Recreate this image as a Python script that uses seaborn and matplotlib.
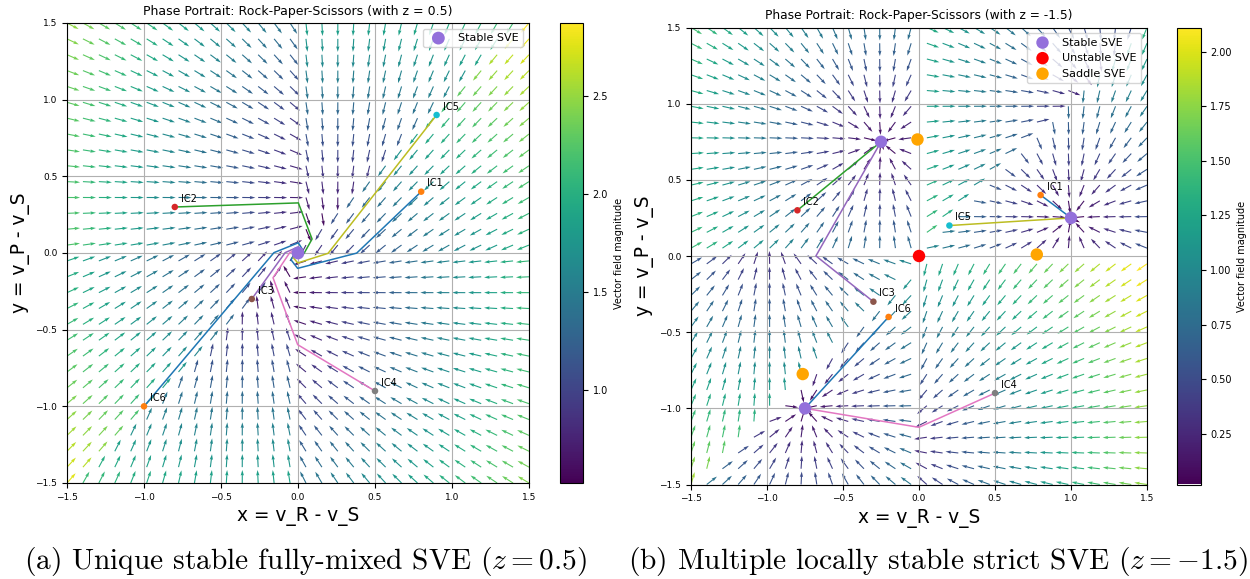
import numpy as np
import pandas as pd
import matplotlib
matplotlib.use("Agg")
import matplotlib.pyplot as plt
import seaborn as sns

plt.rcParams["mathtext.fontset"] = "cm"

# ---------------------------------------------------------------------------
# Piecewise value dynamics  dv/dt = u(pi(v)) - v  in difference coordinates
# x = v_R - v_S, y = v_P - v_S.  pi depends on the ordering of the values,
# so u(pi) is a fixed target point for each of the six orderings.
# ---------------------------------------------------------------------------
orderings = ["RPS", "PSR", "SRP", "RSP", "PRS", "SPR"]

target_x_z05 = [-0.35, 0.70, -0.35, -0.58, 0.25, 0.33]
target_y_z05 = [-0.70, 0.35, 0.35, -0.25, -0.33, 0.58]

target_x_zm15 = [1.00, -0.25, -0.75, -0.247, 1.235, -0.988]
target_y_zm15 = [0.25, 0.75, -1.00, -1.235, 0.988, 0.247]

# initial conditions of the sample trajectories
ic_labels = ["IC1", "IC2", "IC3", "IC4", "IC5", "IC6"]
ic_x_z05 = [0.8, -0.8, -0.3, 0.5, 0.9, -1.0]
ic_y_z05 = [0.4, 0.3, -0.3, -0.9, 0.9, -1.0]
ic_x_zm15 = [0.8, -0.8, -0.3, 0.5, 0.2, -0.2]
ic_y_zm15 = [0.4, 0.3, -0.3, -0.9, 0.2, -0.4]

# equilibria (SVE)
stable_x_z05, stable_y_z05 = [0.0], [0.0]
stable_x_zm15, stable_y_zm15 = [1.0, -0.25, -0.75], [0.25, 0.75, -1.0]
unstable_x_zm15, unstable_y_zm15 = [0.0], [0.0]
saddle_x_zm15, saddle_y_zm15 = [0.775, -0.01, -0.765], [0.01, 0.765, -0.775]

GRID_N = 30
LIM = 1.5


def ordering_index(x, y):
    """Index into `orderings` for values (x, y, 0).

    When v_R == v_P the pair is ranked R first above v_S and P first below it.
    """
    x = np.asarray(x, float)
    y = np.asarray(y, float)
    r_over_p = (x > y) | ((x == y) & (y > 0))
    conds = [
        r_over_p & (y >= 0),     # R > P > S
        (y >= 0) & (x < 0),      # P > S > R
        (x < 0) & r_over_p,      # S > R > P
        (x >= 0) & (y < 0),      # R > S > P
        ~r_over_p & (x >= 0),    # P > R > S
        (y < 0) & ~r_over_p,     # S > P > R
    ]
    return np.select(conds, np.arange(6), default=0)


def field(x, y, tx, ty):
    k = ordering_index(x, y)
    tx = np.asarray(tx)
    ty = np.asarray(ty)
    return tx[k] - x, ty[k] - y


def trajectory(x0, y0, tx, ty, dt=0.004, steps=2500):
    xs = np.empty(steps + 1)
    ys = np.empty(steps + 1)
    xs[0], ys[0] = x0, y0
    for i in range(steps):
        u, v = field(xs[i], ys[i], tx, ty)
        xs[i + 1] = xs[i] + dt * float(u)
        ys[i + 1] = ys[i] + dt * float(v)
    return pd.DataFrame({"x": xs, "y": ys})


def fit_width(text, target_px, renderer):
    w = text.get_window_extent(renderer).width
    text.set_fontsize(text.get_fontsize() * target_px / w)


fig = plt.figure(figsize=(12.5, 5.79), dpi=100)
W, H = 1250.0, 579.0


def box(l, t, r, b):
    return [l / W, 1 - b / H, (r - l) / W, (b - t) / H]


ax_a = fig.add_axes(box(67, 23, 529, 483))
cax_a = fig.add_axes(box(559.5, 23, 583, 483))
ax_b = fig.add_axes(box(691, 27.5, 1147, 484.5))
cax_b = fig.add_axes(box(1176.5, 27.5, 1200.5, 484.5))

grid = np.linspace(-LIM, LIM, GRID_N)
GX, GY = np.meshgrid(grid, grid)

ic_dot_colors = ["C1", "C3", "C5", "C7", "C9", "C1"]
ic_line_colors = ["C0", "C2", "C4", "C6", "C8", "C0"]

panels = [
    dict(ax=ax_a, cax=cax_a, z="0.5", tx=target_x_z05, ty=target_y_z05,
         icx=ic_x_z05, icy=ic_y_z05),
    dict(ax=ax_b, cax=cax_b, z="-1.5", tx=target_x_zm15, ty=target_y_zm15,
         icx=ic_x_zm15, icy=ic_y_zm15),
]

titles = []
xlabels = []
for p in panels:
    ax = p["ax"]
    U, V = field(GX, GY, p["tx"], p["ty"])
    M = np.hypot(U, V)
    Ms = np.where(M == 0, 1.0, M)
    q = ax.quiver(GX, GY, U / Ms, V / Ms, M, cmap="viridis", angles="xy",
                  scale_units="xy", scale=1 / 0.085, width=0.0024, zorder=1)
    cb = fig.colorbar(q, cax=p["cax"])
    cb.set_label("Vector field magnitude", fontsize=7)
    cb.ax.tick_params(labelsize=7)

    for i, lbl in enumerate(ic_labels):
        df = trajectory(p["icx"][i], p["icy"][i], p["tx"], p["ty"])
        sns.lineplot(data=df, x="x", y="y", sort=False, estimator=None,
                     color=ic_line_colors[i], lw=1.1, ax=ax, zorder=3)
        sns.scatterplot(x=[p["icx"][i]], y=[p["icy"][i]], color=ic_dot_colors[i],
                        s=22, edgecolor="none", ax=ax, zorder=4)
        ax.text(p["icx"][i] + 0.04, p["icy"][i] + 0.035, lbl, fontsize=7, zorder=6)

    ax.set_xlim(-LIM, LIM)
    ax.set_ylim(-LIM, LIM)
    ax.set_xticks(np.arange(-1.5, 1.51, 0.5))
    ax.set_yticks(np.arange(-1.5, 1.51, 0.5))
    ax.tick_params(labelsize=6.5)
    ax.grid(True, color="#b0b0b0", lw=0.8)
    titles.append(ax.set_title(
        f"Phase Portrait: Rock-Paper-Scissors (with z = {p['z']})", fontsize=8.5))
    xlabels.append(ax.set_xlabel("x = v_R - v_S", fontsize=12.5))
    ax.set_ylabel("y = v_P - v_S", fontsize=12.5)

# equilibria markers
sns.scatterplot(x=stable_x_z05, y=stable_y_z05, color="mediumpurple", s=85,
                edgecolor="none", label="Stable SVE", ax=ax_a, zorder=7)
sns.scatterplot(x=stable_x_zm15, y=stable_y_zm15, color="mediumpurple", s=80,
                edgecolor="none", label="Stable SVE", ax=ax_b, zorder=7)
sns.scatterplot(x=unstable_x_zm15, y=unstable_y_zm15, color="red", s=80,
                edgecolor="none", label="Unstable SVE", ax=ax_b, zorder=7)
sns.scatterplot(x=saddle_x_zm15, y=saddle_y_zm15, color="orange", s=80,
                edgecolor="none", label="Saddle SVE", ax=ax_b, zorder=7)
for ax in (ax_a, ax_b):
    ax.legend(loc="upper right", fontsize=8)
    ax.set_xlim(-LIM, LIM)
    ax.set_ylim(-LIM, LIM)

cap_a = fig.text(305 / W, 1 - 561 / H,
                 "(a) Unique stable fully-mixed SVE ($z = 0.5$)",
                 family="cmr10", fontsize=19, ha="center", va="center")
cap_b = fig.text(938 / W, 1 - 561 / H,
                 "(b) Multiple locally stable strict SVE ($z = -1.5$)",
                 family="cmr10", fontsize=19, ha="center", va="center")

renderer = fig.canvas.get_renderer()
fit_width(cap_a, 563, renderer)
fit_width(cap_b, 620, renderer)
for t in titles:
    fit_width(t, 309, renderer)
for t in xlabels:
    fit_width(t, 123, renderer)
for ax, xl in zip((ax_a, ax_b), xlabels):
    ax.yaxis.label.set_fontsize(xl.get_fontsize())

fig.savefig("out.png", dpi=100)
